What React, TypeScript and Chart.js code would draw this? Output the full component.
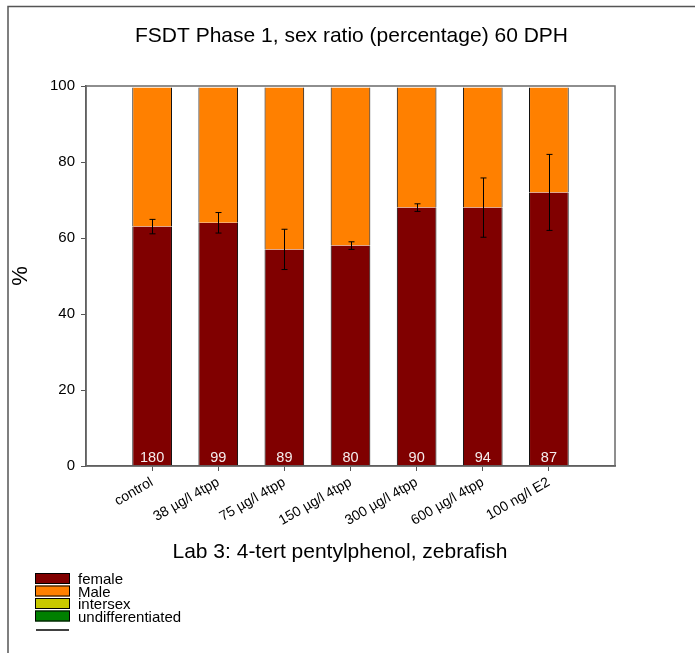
import { useEffect, useRef } from 'react';
import { Chart, registerables } from 'chart.js';

Chart.register(...registerables);

const FONT = '"Liberation Sans", Arial, sans-serif';

// data
const categories = [
  'control',
  '38 µg/l 4tpp',
  '75 µg/l 4tpp',
  '150 µg/l 4tpp',
  '300 µg/l 4tpp',
  '600 µg/l 4tpp',
  '100 ng/l E2',
];
const female = [63, 64, 57, 58, 68, 68, 72];
const male = [36.6, 35.6, 42.6, 41.6, 31.6, 31.6, 27.6];
const intersex = [0, 0, 0, 0, 0, 0, 0];
const undifferentiated = [0, 0, 0, 0, 0, 0, 0];
const femaleError = [1.9, 2.7, 5.3, 1.0, 1.0, 7.8, 10];
const counts = [180, 99, 89, 80, 90, 94, 87];
const yTicks = [0, 20, 40, 60, 80, 100];

// empty slot on each side of the bars
const pad = (arr: (number | string)[]) => [null, ...arr, null];

const decorPlugin = {
  id: 'decor',
  afterDatasetsDraw(chart: any) {
    const { ctx, chartArea, scales } = chart;
    const x = scales.x;
    const y = scales.y;
    ctx.save();

    // error bars on the female segment
    ctx.strokeStyle = '#000';
    ctx.lineWidth = 1;
    female.forEach((v, i) => {
      const px = Math.round(x.getPixelForValue(i + 1)) + 0.5;
      const top = y.getPixelForValue(v + femaleError[i]);
      const bot = y.getPixelForValue(v - femaleError[i]);
      ctx.beginPath();
      ctx.moveTo(px, top);
      ctx.lineTo(px, bot);
      ctx.moveTo(px - 3, top);
      ctx.lineTo(px + 3, top);
      ctx.moveTo(px - 3, bot);
      ctx.lineTo(px + 3, bot);
      ctx.stroke();
    });

    // n per group
    ctx.fillStyle = '#f4ecec';
    ctx.font = `14.5px ${FONT}`;
    ctx.textAlign = 'center';
    ctx.textBaseline = 'alphabetic';
    counts.forEach((n, i) => {
      ctx.fillText(String(n), x.getPixelForValue(i + 1), y.getPixelForValue(0) - 4);
    });

    // plot frame
    ctx.strokeStyle = '#6a6a6a';
    ctx.lineWidth = 1.5;
    ctx.strokeRect(chartArea.left, chartArea.top, chartArea.right - chartArea.left, chartArea.bottom - chartArea.top);
    ctx.restore();
  },
  afterDraw(chart: any) {
    const { ctx, scales } = chart;
    ctx.save();

    // page frame (top and left)
    ctx.strokeStyle = '#555';
    ctx.lineWidth = 1.5;
    ctx.beginPath();
    ctx.moveTo(8, 653);
    ctx.lineTo(8, 6.5);
    ctx.lineTo(695, 6.5);
    ctx.stroke();

    ctx.fillStyle = '#000';
    ctx.textAlign = 'center';
    ctx.textBaseline = 'alphabetic';
    ctx.font = `21px ${FONT}`;
    ctx.fillText('FSDT Phase 1, sex ratio (percentage) 60 DPH', (scales.x.left + scales.x.right) / 2 + 1, 42);
    ctx.fillText('Lab 3: 4-tert pentylphenol, zebrafish', 340, 558);

    // legend
    const items = chart.data.datasets;
    ctx.font = `15px ${FONT}`;
    ctx.textAlign = 'left';
    items.forEach((ds: any, i: number) => {
      const top = 573 + i * 12.5;
      ctx.fillStyle = ds.backgroundColor;
      ctx.fillRect(35, top, 35, 11);
      ctx.strokeStyle = '#000';
      ctx.lineWidth = 1;
      ctx.strokeRect(35.5, top + 0.5, 34, 10);
      ctx.fillStyle = '#000';
      ctx.fillText(ds.label, 78, top + 11);
    });
    ctx.strokeStyle = '#000';
    ctx.lineWidth = 1.5;
    ctx.beginPath();
    ctx.moveTo(36, 630);
    ctx.lineTo(69, 630);
    ctx.stroke();
    ctx.restore();
  },
};

const App = () => {
  const canvasRef = useRef<HTMLCanvasElement>(null);
  const chartRef = useRef<Chart | null>(null);

  useEffect(() => {
    if (!canvasRef.current) return;
    if (chartRef.current) chartRef.current.destroy();

    const barStyle = {
      stack: 's',
      borderColor: '#000',
      borderWidth: { left: 1, right: 1, top: 0, bottom: 0 },
      borderSkipped: false,
      barPercentage: 0.6,
      categoryPercentage: 1,
    };

    chartRef.current = new Chart(canvasRef.current, {
      type: 'bar',
      data: {
        labels: pad(categories),
        datasets: [
          { ...barStyle, label: 'female', data: pad(female), backgroundColor: '#800000' },
          { ...barStyle, label: 'Male', data: pad(male), backgroundColor: '#ff8000' },
          { ...barStyle, label: 'intersex', data: pad(intersex), backgroundColor: '#c8c800', borderWidth: 0 },
          { ...barStyle, label: 'undifferentiated', data: pad(undifferentiated), backgroundColor: '#008000', borderWidth: 0 },
        ],
      } as any,
      options: {
        animation: false,
        responsive: true,
        maintainAspectRatio: false,
        layout: { padding: { left: 0, top: 86, right: 80, bottom: 0 } },
        plugins: {
          legend: { display: false },
          title: { display: false },
          tooltip: { enabled: false },
        },
        scales: {
          x: {
            stacked: true,
            offset: false,
            grid: { display: true, drawOnChartArea: false, drawTicks: true, tickLength: 5, color: '#555', offset: false },
            border: { color: '#444', width: 1.5 },
            ticks: {
              autoSkip: false,
              maxRotation: 30,
              minRotation: 30,
              padding: 3,
              color: '#000',
              font: { family: FONT, size: 14 },
            },
            afterFit: (scale: any) => {
              scale.height = 187;
            },
          },
          y: {
            stacked: true,
            min: 0,
            max: 100,
            grid: { display: true, drawOnChartArea: false, drawTicks: true, tickLength: 5, color: '#555' },
            border: { color: '#444', width: 1.5 },
            afterBuildTicks: (scale: any) => {
              scale.ticks = yTicks.map((v) => ({ value: v }));
            },
            ticks: {
              padding: 6,
              color: '#000',
              font: { family: FONT, size: 15 },
            },
            title: {
              display: true,
              text: '%',
              color: '#000',
              padding: { top: 8 },
              font: { family: FONT, size: 22 },
            },
            afterFit: (scale: any) => {
              scale.width = 86;
            },
          },
        },
      } as any,
      plugins: [decorPlugin],
    });

    return () => {
      if (chartRef.current) {
        chartRef.current.destroy();
        chartRef.current = null;
      }
    };
  }, []);

  return (
    <div style={{ position: 'absolute', left: 0, top: 0, width: 695, height: 653, background: '#fff' }}>
      <canvas ref={canvasRef} />
    </div>
  );
};

export default App;
